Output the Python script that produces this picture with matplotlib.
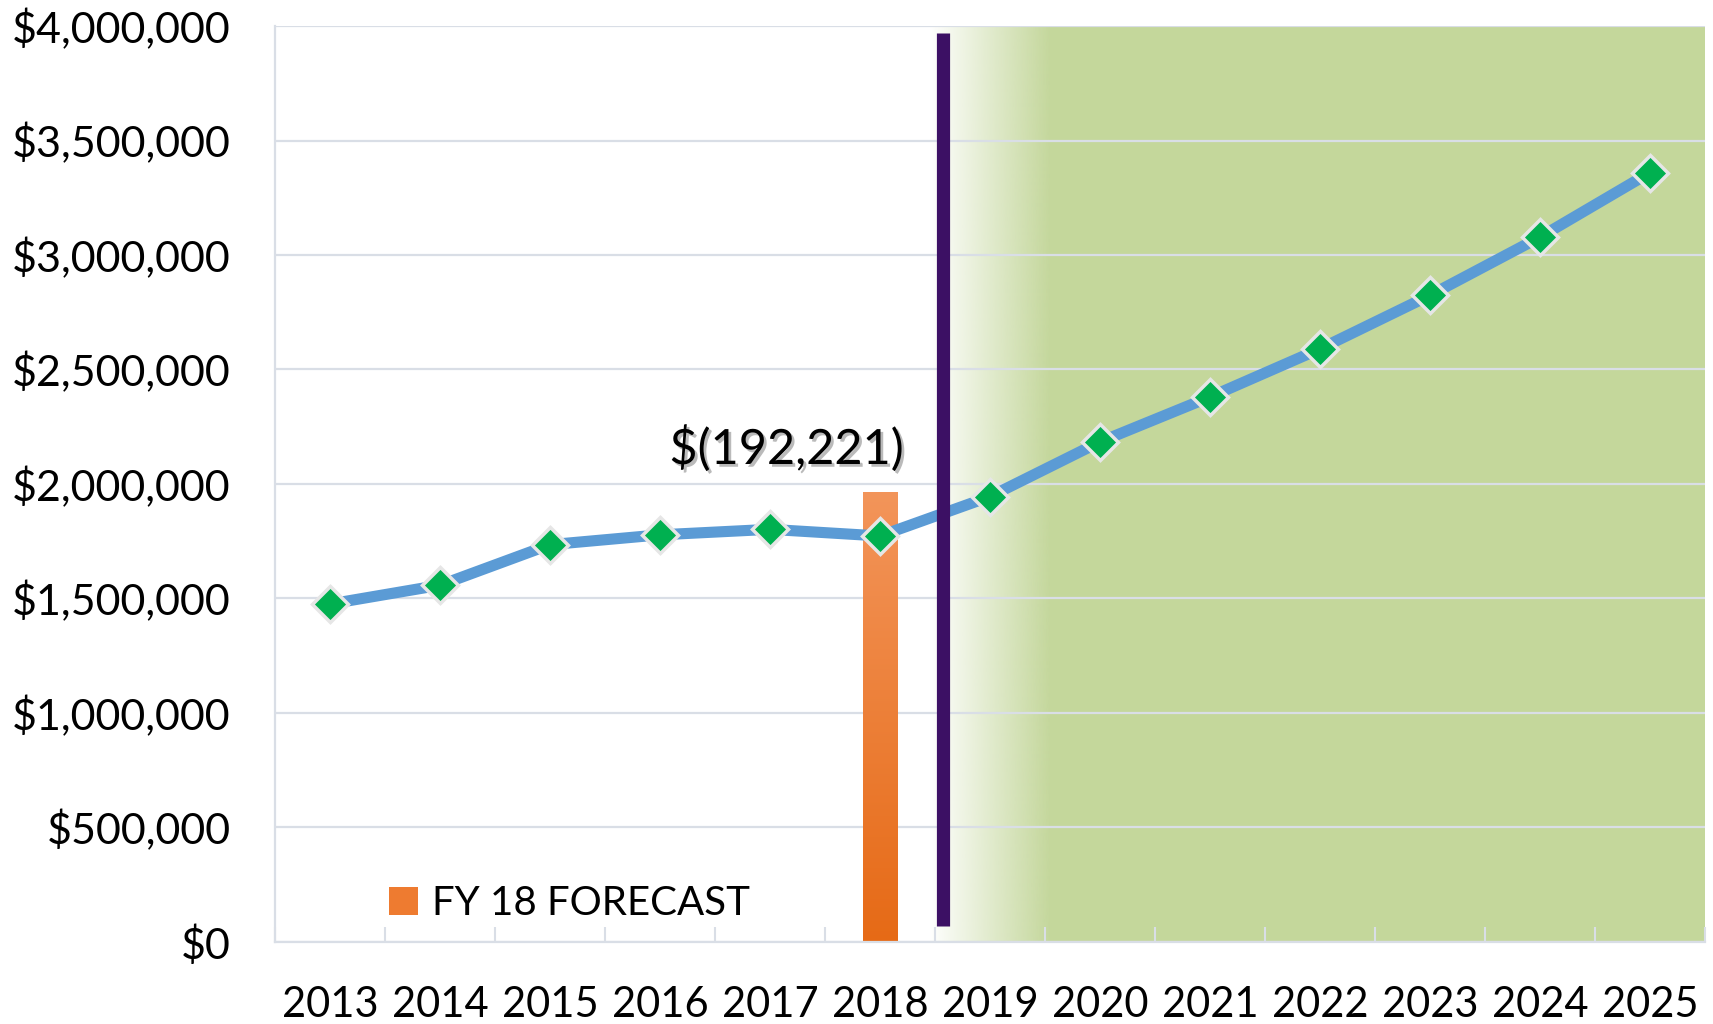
import numpy as np
import matplotlib
matplotlib.use('Agg')
import matplotlib.pyplot as plt
import matplotlib.patheffects as pe
from matplotlib.patches import Patch
from matplotlib.ticker import FuncFormatter
from matplotlib.colors import to_rgb

years = ['2013', '2014', '2015', '2016', '2017', '2018', '2019',
         '2020', '2021', '2022', '2023', '2024', '2025']
balance = [1476000, 1558000, 1735000, 1778000, 1802000, 1773000, 1945000,
           2184000, 2380000, 2590000, 2824000, 3078000, 3360000]
forecast_year = '2018'
forecast_value = 1965221
forecast_label = 'FY 18 FORECAST'
gap_label = '$(192,221)'
y_ticks = [0, 500000, 1000000, 1500000, 2000000, 2500000, 3000000, 3500000, 4000000]

plt.rcParams['font.family'] = ['Lato', 'DejaVu Sans']

GRID = '#D9DEE6'
GREEN = '#C4D79B'

fig = plt.figure(figsize=(17.13, 10.24), dpi=100)
ax = fig.add_axes([0.1605, 0.0801, 0.8348, 0.8945])

x = np.arange(len(years))
ymax = y_ticks[-1]
split = 5.57      # divider between actuals and projections
full_green = 6.55

# projection shading: fade in, then solid
n = 256
fade = np.ones((1, n, 4))
fade[..., :3] = to_rgb(GREEN)
fade[..., 3] = np.linspace(0, 1, n)
ax.imshow(fade, extent=[split - 0.12, full_green, 0, ymax], aspect='auto',
          zorder=0.1, interpolation='bilinear')
ax.axvspan(full_green, len(years) - 0.5, color=GREEN, lw=0, zorder=0.1)

# forecast bar with vertical gradient
fi = years.index(forecast_year)
bar = ax.bar(fi, forecast_value, width=0.31, color='none', lw=0, zorder=2)[0]
top = np.array(to_rgb('#F3955A'))
bot = np.array(to_rgb('#E66A16'))
cg = np.linspace(top, bot, n).reshape(n, 1, 3)
im = ax.imshow(cg, extent=[bar.get_x(), bar.get_x() + bar.get_width(), 0, forecast_value],
               aspect='auto', zorder=2, interpolation='bilinear')
im.set_clip_path(bar)

# balance line
ax.plot(x, balance, color='#5B9BD5', lw=8, zorder=3, solid_capstyle='round')
ax.vlines(split, 0.07e6, 3.97e6, color='#3C1064', lw=9.5, zorder=4)
ax.plot(x, balance, ls='none', marker='D', ms=18.5, mfc='#00B050', mec='#E6E6E6',
        mew=2.5, zorder=5)

ax.text(fi - 0.85, forecast_value + 0.19e6, gap_label, ha='center', va='center',
        fontsize=35, zorder=6,
        path_effects=[pe.withSimplePatchShadow(offset=(2, -2), shadow_rgbFace='#777777', alpha=0.5)])

ax.legend(handles=[Patch(facecolor='#EE7B30', label=forecast_label)],
          loc='center left', bbox_to_anchor=(0.080, 0.042), frameon=False,
          fontsize=29, handlelength=0.7, handleheight=0.7, handletextpad=0.35,
          borderpad=0, borderaxespad=0)

ax.set_xlim(-0.5, len(years) - 0.5)
ax.set_ylim(0, ymax)
ax.set_xticks(x)
ax.set_xticklabels(years)
ax.set_xticks(np.arange(-0.5, len(years), 1), minor=True)
ax.set_yticks(y_ticks)
ax.yaxis.set_major_formatter(FuncFormatter(lambda v, p: '${:,.0f}'.format(v)))
ax.tick_params(axis='x', which='major', length=0, labelsize=30, pad=32)
ax.tick_params(axis='x', which='minor', direction='in', length=11, width=1.5, color=GRID)
ax.tick_params(axis='y', length=0, labelsize=31, pad=32)

ax.set_axisbelow(True)
ax.yaxis.grid(True, color=GRID, lw=1.6)
for s in ['top', 'right']:
    ax.spines[s].set_visible(False)
for s in ['left', 'bottom']:
    ax.spines[s].set_color(GRID)
    ax.spines[s].set_linewidth(1.6)

fig.savefig('out.png', dpi=100)
